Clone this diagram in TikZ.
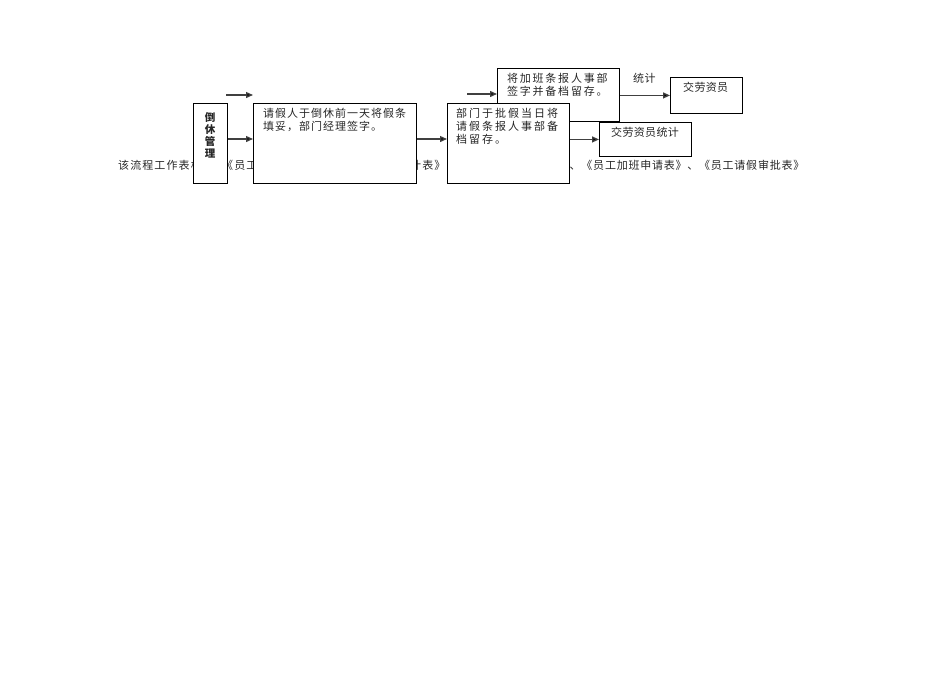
\documentclass[tikz,border=0pt]{standalone}
\usepackage{fontspec}
\usetikzlibrary{arrows.meta}
\newfontfamily\cjk{Noto Sans CJK SC}
\newfontfamily\cjkA[LetterSpace=9]{Noto Sans CJK SC}
\newfontfamily\cjkB[LetterSpace=18]{Noto Sans CJK SC}
\newfontfamily\cjkC[LetterSpace=16]{Noto Sans CJK SC}
\newfontfamily\cjkD[LetterSpace=10]{Noto Sans CJK SC}
\newfontfamily\cjkF[LetterSpace=7]{Noto Sans CJK SC}
\newfontfamily\cjkE[LetterSpace=3]{Noto Sans CJK SC}
\newcommand\mylines[2]{\begin{tabular}[t]{@{}#1@{}}#2\end{tabular}}
\begin{document}
\begin{tikzpicture}[x=1pt,y=-1pt,
  box/.style={draw=black, line width=0.9pt, fill=white, inner sep=0pt, anchor=north west},
  arr/.style={draw=black!75, line width=1.3pt, -{Triangle[length=7pt,width=6pt,fill=black]}},
  txt/.style={inner sep=0pt, anchor=base west, text=black!85}]
\useasboundingbox (0,0) rectangle (950,672);
% background line of text (partly hidden by the boxes)
\node[txt] (t1) at (118,169.2) {\fontsize{11}{12}\cjkD 该流程工作表格};
\node[txt] (t2) at (222,169.2) {\fontsize{11}{12}\cjkD 《员工};
\node[txt] (t3) at (410,169.2) {\fontsize{11}{12}\cjkD 计表》};
\node[txt] (t4) at (569.5,169.2) {\fontsize{11}{12}\cjkF 、《员工加班申请表》、《员工请假审批表》};
% boxes
\node[box, minimum width=122pt, minimum height=53pt] (b3) at (497,68) {};
\node[box, minimum width=122pt, minimum height=80pt] (b2) at (447,103) {};
\node[box, minimum width=163pt, minimum height=80pt] (b1) at (253,103) {};
\node[box, minimum width=34pt, minimum height=80pt] (dx) at (193,103) {};
\node[box, minimum width=92pt, minimum height=34pt] (tj) at (599,122) {};
\node[box, minimum width=72pt, minimum height=36pt] (jl) at (670,77) {};
% texts in boxes
\node[txt, anchor=base] (dxt) at (210,121) {\fontsize{10.5}{10.5}\selectfont\cjk\bfseries\mylines{c}{倒\\休\\管\\理}};
\node[txt] (b1t) at (263,117.2) {\fontsize{11}{12}\selectfont\cjkA\mylines{l}{请假人于倒休前一天将假条\\填妥，部门经理签字。}};
\node[txt] (b2t) at (456,117.2) {\fontsize{11}{12.5}\selectfont\cjkB\mylines{l}{部门于批假当日将\\请假条报人事部备\\档留存。}};
\node[txt] (b3t) at (507,82.2) {\fontsize{11}{12.5}\selectfont\cjkC\mylines{l}{将加班条报人事部\\签字并备档留存。}};
\node[txt] (jlt) at (683,91.2) {\fontsize{11}{12}\selectfont\cjkE 交劳资员};
\node[txt] (tjt) at (611,136.2) {\fontsize{11}{12}\selectfont\cjkE 交劳资员统计};
\node[txt] (lab) at (633,82.2) {\fontsize{11}{12}\selectfont\cjkE 统计};
% connectors
\coordinate (a1) at (226,95);
\coordinate (a2) at (253,95);
\coordinate (c1) at (467,94);
\draw[arr] (a1) -- (a2);
\draw[arr] (dx.east |- 0,139) -- (b1.west |- 0,139);
\draw[arr] (b1.east |- 0,139) -- (b2.west |- 0,139);
\draw[arr] (c1) -- (b3.west |- c1);
\draw[arr] (b3.east |- jl.west) -- (jl.west);
\draw[arr] (b2.east |- tj.west) -- (tj.west);
\end{tikzpicture}
\end{document}
